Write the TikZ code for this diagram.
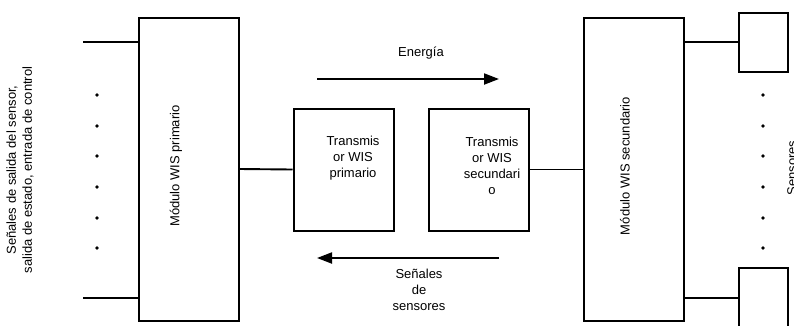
\documentclass[tikz,border=0pt]{standalone}
\usepackage{fontspec}
\setmainfont{Liberation Sans}
\usetikzlibrary{arrows.meta}
\begin{document}
\begin{tikzpicture}[x=1pt, y=-1pt,
		box/.style={draw, line width=2pt, inner sep=0pt},
		wire/.style={line width=1.9pt},
		dot/.style={circle, fill, inner sep=1.3pt},
		lbl/.style={font=\fontsize{13}{16}\selectfont, align=center, inner sep=0pt},
		flow/.style={line width=2pt, -{Triangle[length=15pt, width=11pt]}}]
		\useasboundingbox (0,0) rectangle (794,325);
		
		%modules
		\node[box, minimum width=100pt, minimum height=303pt] (mp) at (188.5, 169){};
		\node[box, minimum width=100pt, minimum height=303pt] (ms) at (633.5, 169){};
		\node[lbl, rotate=90] (mpl) at (176, 166){Módulo WIS primario};
		\node[lbl, rotate=90] (msl) at (625, 166){Módulo WIS secundario};
		
		%transmitters
		\node[box, minimum width=100pt, minimum height=122pt] (tp) at (343.5, 169.5){};
		\node[box, minimum width=100pt, minimum height=122pt] (ts) at (478.5, 169.5){};
		\node[lbl] (tpl) at (353, 158){Transmis\\or WIS\\primario};
		\node[lbl] (tsl) at (492, 166){Transmis\\or WIS\\secundari\\o};
		\draw[wire] (mp.east) -- (tp.west);
		\draw[wire] (ts.east) -- (ts.east -| ms.west);
		
		%energy and signals
		\node[lbl] (en) at (421, 53){Energía};
		\coordinate (e1) at (317, 79);
		\coordinate (e2) at (499, 79);
		\draw[flow] (e1) -- (e2);
		\node[lbl] (sg) at (419, 290){Señales\\de\\sensores};
		\coordinate (s1) at (499, 258);
		\coordinate (s2) at (317, 258);
		\draw[flow] (s1) -- (s2);
		
		%inputs
		\node[lbl, rotate=90] (inl) at (20, 170){Señales de salida del sensor,\\salida de estado, entrada de control};
		\coordinate (i1) at (83, 42);
		\coordinate (i2) at (83, 298);
		\draw[wire] (i1) -- (i1 -| mp.west);
		\draw[wire] (i2) -- (i2 -| mp.west);
		
		%sensors
		\node[box, minimum width=49pt, minimum height=59pt] (st) at (763, 42){};
		\node[box, minimum width=49pt, minimum height=60pt] (sb) at (763, 298){};
		\draw[wire] (st.west -| ms.east) -- (st.west);
		\draw[wire] (sb.west -| ms.east) -- (sb.west);
		\node[lbl, rotate=90] (sen) at (792, 168){Sensores};
		
		\foreach \y [count=\i] in {95, 126, 156, 187, 218, 248}{
			\node[dot] (dl\i) at (97, \y){};
			\node[dot] (dr\i) at (763, \y){};
		}
		\end{tikzpicture}
\end{document}
